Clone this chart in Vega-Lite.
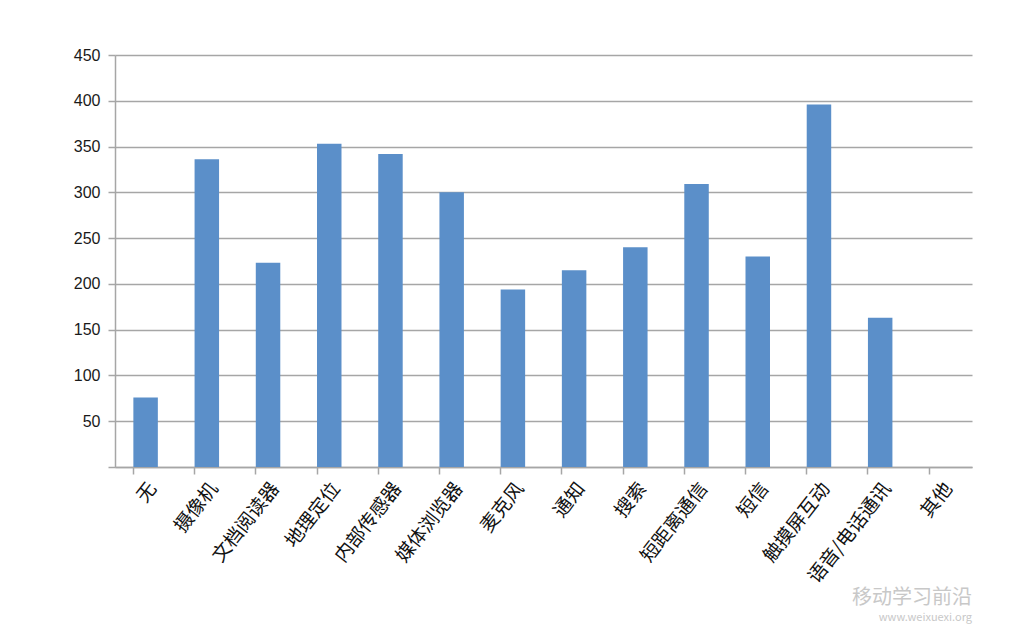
{
  "$schema": "https://vega.github.io/schema/vega-lite/v6.json",
  "width": 857,
  "height": 412,
  "autosize": "none",
  "padding": {"left": 115, "top": 55, "right": 48, "bottom": 166},
  "background": "white",
  "data": {"values": [
    {"category": "无", "value": 76},
    {"category": "摄像机", "value": 336},
    {"category": "文档阅读器", "value": 223},
    {"category": "地理定位", "value": 353},
    {"category": "内部传感器", "value": 342},
    {"category": "媒体浏览器", "value": 300},
    {"category": "麦克风", "value": 194},
    {"category": "通知", "value": 215},
    {"category": "搜索", "value": 240},
    {"category": "短距离通信", "value": 309},
    {"category": "短信", "value": 230},
    {"category": "触摸屏互动", "value": 396},
    {"category": "语音/电话通讯", "value": 163},
    {"category": "其他", "value": 0}
  ]},
  "config": {
    "view": {"stroke": null},
    "font": "Noto Sans CJK SC"
  },
  "title": {
    "text": "移动学习前沿",
    "subtitle": "www.weixuexi.org",
    "orient": "bottom",
    "anchor": "end",
    "color": "#c8c8c8",
    "subtitleColor": "#c8c8c8",
    "fontSize": 20,
    "subtitleFontSize": 11,
    "subtitlePadding": 4,
    "fontWeight": "normal",
    "offset": 2
  },
  "mark": {"type": "bar", "color": "#5b8fc9"},
  "encoding": {
    "x": {
      "field": "category",
      "type": "nominal",
      "sort": null,
      "scale": {"paddingInner": 0.6, "paddingOuter": 0.3},
      "axis": {
        "title": null,
        "labelAngle": -52,
        "labelFontSize": 19,
        "labelColor": "#111111",
        "labelPadding": 5,
        "labelAlign": "right",
        "labelBaseline": "top",
        "bandPosition": 0,
        "ticks": true,
        "tickColor": "#a6a6a6",
        "tickSize": 7,
        "tickWidth": 1.5,
        "domainColor": "#a6a6a6",
        "domainWidth": 1.5,
        "grid": false
      }
    },
    "y": {
      "field": "value",
      "type": "quantitative",
      "scale": {"domain": [0, 450], "nice": false},
      "axis": {
        "title": null,
        "values": [0, 50, 100, 150, 200, 250, 300, 350, 400, 450],
        "labelExpr": "datum.value == 0 ? '' : datum.label",
        "labelFontSize": 16,
        "labelColor": "#1a1a1a",
        "labelFont": "Liberation Sans",
        "labelPadding": 8,
        "tickSize": 7,
        "tickColor": "#a6a6a6",
        "tickWidth": 1.5,
        "domainColor": "#a6a6a6",
        "domainWidth": 1.5,
        "grid": true,
        "gridColor": "#a6a6a6",
        "gridWidth": 1.5
      }
    }
  }
}
